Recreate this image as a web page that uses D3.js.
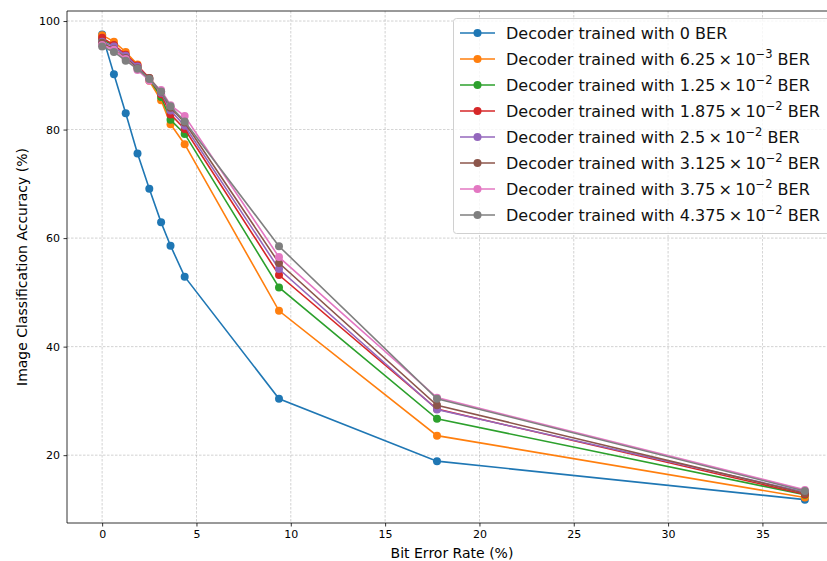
<!DOCTYPE html>
<html>
<head>
<meta charset="utf-8">
<script src="https://cdn.jsdelivr.net/npm/d3@7"></script>
<style>
  body { margin: 0; background: #fff; }
  svg { display: block; font-family: "DejaVu Sans", sans-serif; }
</style>
</head>
<body>
<svg id="chart" width="827" height="561"></svg>
<script>
const berX = [0, 0.625, 1.25, 1.875, 2.5, 3.125, 3.625, 4.375, 9.375, 17.75, 37.25];
const seriesNames = ["0", "6.25|-3", "1.25|-2", "1.875|-2", "2.5|-2", "3.125|-2", "3.75|-2", "4.375|-2"];
const acc0     = [97.5, 90.2, 83.0, 75.6, 69.1, 62.9, 58.6, 52.9, 30.4, 18.9, 11.8];
const acc6250  = [97.4, 96.2, 94.3, 92.0, 89.0, 85.4, 81.0, 77.3, 46.6, 23.6, 12.2];
const acc12500 = [96.6, 95.5, 93.5, 91.5, 89.3, 86.0, 81.8, 79.2, 50.9, 26.7, 12.7];
const acc18750 = [96.9, 95.6, 93.8, 91.8, 89.5, 86.5, 82.8, 80.1, 53.2, 28.5, 12.8];
const acc25000 = [96.2, 95.3, 93.6, 91.6, 89.3, 86.8, 83.5, 80.7, 54.3, 28.4, 13.2];
const acc31250 = [96.0, 94.8, 93.2, 91.3, 89.5, 87.0, 84.0, 81.3, 55.4, 29.2, 13.0];
const acc37500 = [95.6, 94.7, 93.0, 91.0, 89.0, 87.3, 84.5, 82.5, 56.5, 30.6, 13.6];
const acc43750 = [95.3, 94.3, 92.7, 91.2, 89.3, 87.0, 84.3, 81.5, 58.5, 30.4, 13.4];
const allSeries = [acc0, acc6250, acc12500, acc18750, acc25000, acc31250, acc37500, acc43750];
const xTicks = [0, 5, 10, 15, 20, 25, 30, 35];
const yTicks = [20, 40, 60, 80, 100];
const colors = ["#1f77b4", "#ff7f0e", "#2ca02c", "#d62728", "#9467bd", "#8c564b", "#e377c2", "#7f7f7f"];

const svg = d3.select("#chart");
const L = 67, R = 840, T = 11, B = 523;
const x = d3.scaleLinear().domain([-1.8625, 39.1125]).range([L, R]);
const y = d3.scaleLinear().domain([7.5, 101.85]).range([B, T]);

// grid
const grid = svg.append("g");
grid.selectAll(".vx").data(xTicks).enter().append("line")
  .attr("x1", d => x(d)).attr("x2", d => x(d)).attr("y1", T).attr("y2", B)
  .attr("stroke", "#b0b0b0").attr("stroke-width", 0.8).attr("stroke-dasharray", "2.5,1.5").attr("opacity", 0.7);
grid.selectAll(".hy").data(yTicks).enter().append("line")
  .attr("x1", L).attr("x2", R).attr("y1", d => y(d)).attr("y2", d => y(d))
  .attr("stroke", "#b0b0b0").attr("stroke-width", 0.8).attr("stroke-dasharray", "2.5,1.5").attr("opacity", 0.7);

// axes
const xAxis = d3.axisBottom(x).tickValues(xTicks).tickSize(3.5).tickPadding(3.5);
const yAxis = d3.axisLeft(y).tickValues(yTicks).tickSize(3.5).tickPadding(3.5);
const gx = svg.append("g").attr("transform", `translate(0,${B})`).call(xAxis);
const gy = svg.append("g").attr("transform", `translate(${L},0)`).call(yAxis);
[gx, gy].forEach(g => {
  g.select(".domain").remove();
  g.selectAll("text").attr("font-size", 11).attr("fill", "#000").attr("font-family", "DejaVu Sans");
  g.selectAll(".tick line").attr("stroke", "#000").attr("stroke-width", 0.8);
});
// spines
svg.append("line").attr("x1", L).attr("x2", L).attr("y1", T).attr("y2", B).attr("stroke", "#000").attr("stroke-width", 0.8);
svg.append("line").attr("x1", L).attr("x2", R).attr("y1", B).attr("y2", B).attr("stroke", "#000").attr("stroke-width", 0.8);
svg.append("line").attr("x1", L).attr("x2", R).attr("y1", T).attr("y2", T).attr("stroke", "#000").attr("stroke-width", 0.8);

// labels
svg.append("text").attr("x", 452).attr("y", 558).attr("text-anchor", "middle")
  .attr("font-size", 14).text("Bit Error Rate (%)");
svg.append("text").attr("transform", `translate(27,${(T + B) / 2}) rotate(-90)`).attr("text-anchor", "middle")
  .attr("font-size", 14).text("Image Classification Accuracy (%)");

// lines
const line = d3.line().x((d, i) => x(berX[i])).y(d => y(d));
allSeries.forEach((s, k) => {
  const g = svg.append("g");
  g.append("path").datum(s).attr("d", line).attr("fill", "none")
    .attr("stroke", colors[k]).attr("stroke-width", 1.6);
  g.selectAll("circle").data(s).enter().append("circle")
    .attr("cx", (d, i) => x(berX[i])).attr("cy", d => y(d)).attr("r", 4)
    .attr("fill", colors[k]);
});

// legend
const lg = svg.append("g");
lg.append("rect").attr("x", 453.5).attr("y", 18.5).attr("width", 390).attr("height", 215).attr("rx", 3)
  .attr("fill", "#fff").attr("fill-opacity", 0.8).attr("stroke", "#d0d0d0").attr("stroke-width", 1);
seriesNames.forEach((nm, k) => {
  const cy = 33 + k * 26;
  lg.append("line").attr("x1", 460).attr("x2", 495).attr("y1", cy).attr("y2", cy)
    .attr("stroke", colors[k]).attr("stroke-width", 1.6);
  lg.append("circle").attr("cx", 477.5).attr("cy", cy).attr("r", 4).attr("fill", colors[k]);
  const t = lg.append("text").attr("x", 506).attr("y", cy + 5.5).attr("font-size", 16).attr("fill", "#111");
  if (nm.indexOf("|") < 0) {
    t.text(`Decoder trained with ${nm} BER`);
  } else {
    const [m, e] = nm.split("|");
    t.append("tspan").text(`Decoder trained with ${m}\u2009×\u200910`);
    t.append("tspan").attr("dy", -7).attr("font-size", 11.5).text(e.replace("-", "\u2212"));
    t.append("tspan").attr("dy", 7).text(" BER");
  }
});
</script>
</body>
</html>
